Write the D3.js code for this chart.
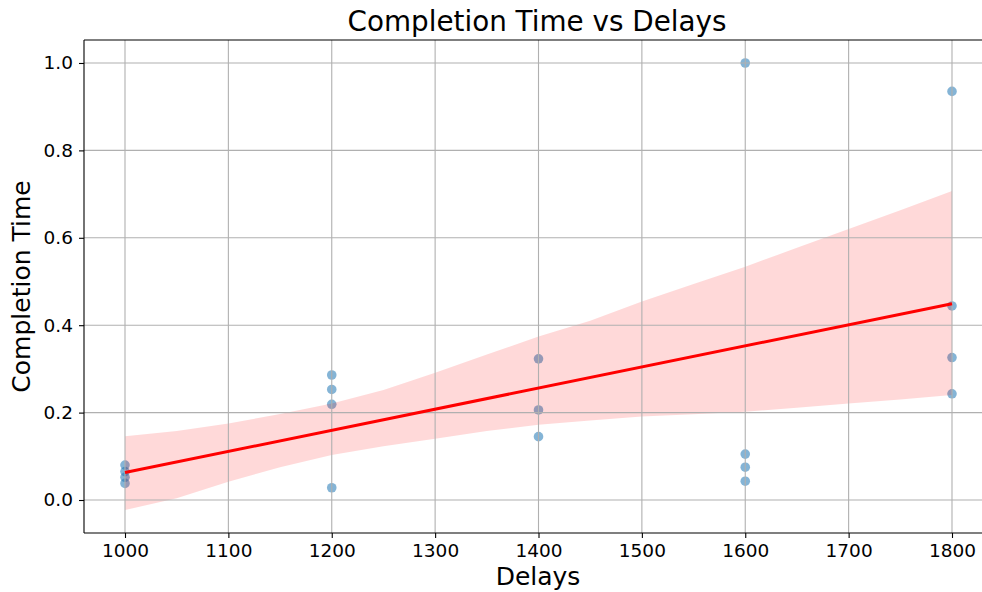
<!DOCTYPE html>
<html>
<head>
<meta charset="utf-8">
<script src="https://cdn.jsdelivr.net/npm/d3@7"></script>
<style>
  html, body { margin: 0; padding: 0; background: #fff; }
  svg { display: block; font-family: "DejaVu Sans", sans-serif; }
</style>
</head>
<body>
<svg id="chart" width="982" height="592"></svg>
<script>
// Observations: delay setting and measured completion time
const delays = [1000, 1000, 1000, 1000,
                1200, 1200, 1200, 1200,
                1400, 1400, 1400,
                1600, 1600, 1600, 1600,
                1800, 1800, 1800, 1800];
const completion = [0.080, 0.065, 0.052, 0.038,
                    0.286, 0.253, 0.219, 0.028,
                    0.323, 0.206, 0.145,
                    1.000, 0.105, 0.075, 0.043,
                    0.935, 0.444, 0.326, 0.243];

// 95% confidence band of the fit (bootstrapped), sampled along x
const bandX    = [1000, 1050, 1100, 1150, 1200, 1250, 1300, 1350, 1400,
                  1450, 1500, 1550, 1600, 1650, 1700, 1750, 1800];
const bandLow  = [-0.023, 0.004, 0.042, 0.075, 0.103, 0.123, 0.140, 0.158, 0.172,
                  0.182, 0.191, 0.196, 0.202, 0.211, 0.221, 0.230, 0.240];
const bandHigh = [0.146, 0.158, 0.175, 0.197, 0.221, 0.252, 0.291, 0.333, 0.374,
                  0.410, 0.454, 0.494, 0.534, 0.577, 0.620, 0.663, 0.707];

const xTicks = [1000, 1100, 1200, 1300, 1400, 1500, 1600, 1700, 1800];
const yTicks = [0.0, 0.2, 0.4, 0.6, 0.8, 1.0];

(function () {
const svg = d3.select("#chart");
const plotLeft = 84, plotTop = 40, plotBottom = 533;

const x = d3.scaleLinear().domain([960, 1840]).range([83.65, 993.35]);
const y = d3.scaleLinear().domain([-0.0755, 1.0526]).range([plotBottom, plotTop]);
const plotRight = x(1840);

// Least-squares fit of completion time on delay
const n = delays.length;
const mx = d3.mean(delays), my = d3.mean(completion);
let sxy = 0, sxx = 0;
for (let i = 0; i < n; i++) {
  sxy += (delays[i] - mx) * (completion[i] - my);
  sxx += (delays[i] - mx) ** 2;
}
const slope = sxy / sxx, intercept = my - slope * mx;
const xMin = d3.min(delays), xMax = d3.max(delays);
const fitLine = [xMin, xMax].map(v => [v, intercept + slope * v]);

// Scatter points
svg.append("g")
  .selectAll("circle")
  .data(delays.map((d, i) => [d, completion[i]]))
  .join("circle")
  .attr("cx", d => x(d[0]))
  .attr("cy", d => y(d[1]))
  .attr("r", 4.8)
  .attr("fill", "#1f77b4")
  .attr("fill-opacity", 0.55);

// Confidence band
const area = d3.area()
  .x((d, i) => x(bandX[i]))
  .y0((d, i) => y(bandLow[i]))
  .y1((d, i) => y(bandHigh[i]));
svg.append("path")
  .datum(bandX)
  .attr("d", area)
  .attr("fill", "#ff0000")
  .attr("fill-opacity", 0.15);

// Grid
const grid = svg.append("g").attr("stroke", "#b0b0b0").attr("stroke-width", 1.1);
grid.selectAll("line.vx").data(xTicks).join("line")
  .attr("x1", d => x(d)).attr("x2", d => x(d))
  .attr("y1", plotTop).attr("y2", plotBottom);
grid.selectAll("line.hy").data(yTicks).join("line")
  .attr("x1", plotLeft).attr("x2", plotRight)
  .attr("y1", d => y(d)).attr("y2", d => y(d));

// Regression line
svg.append("path")
  .datum(fitLine)
  .attr("d", d3.line().x(d => x(d[0])).y(d => y(d[1])))
  .attr("fill", "none")
  .attr("stroke", "#ff0000")
  .attr("stroke-width", 3);

// Axes
const xAxis = d3.axisBottom(x).tickValues(xTicks).tickSize(5).tickPadding(6).tickFormat(d3.format("d"));
const yAxis = d3.axisLeft(y).tickValues(yTicks).tickSize(5).tickPadding(6).tickFormat(d3.format(".1f"));

const gx = svg.append("g").attr("transform", `translate(0,${plotBottom})`).call(xAxis);
const gy = svg.append("g").attr("transform", `translate(${plotLeft},0)`).call(yAxis);
[gx, gy].forEach(g => {
  g.select(".domain").remove();
  g.selectAll(".tick line").attr("stroke", "#000").attr("stroke-width", 1.1);
  g.selectAll(".tick text").attr("fill", "#000")
    .style("font-family", "DejaVu Sans").style("font-size", "18.5px");
});

// Spines
const spines = svg.append("g").attr("stroke", "#000").attr("stroke-width", 1.1);
spines.append("line").attr("x1", plotLeft).attr("x2", plotLeft).attr("y1", plotTop).attr("y2", plotBottom);
spines.append("line").attr("x1", plotLeft).attr("x2", plotRight).attr("y1", plotBottom).attr("y2", plotBottom);
spines.append("line").attr("x1", plotLeft).attr("x2", plotRight).attr("y1", plotTop).attr("y2", plotTop);

// Titles
svg.append("text")
  .attr("x", 537).attr("y", 31)
  .attr("text-anchor", "middle")
  .style("font-size", "27.8px")
  .text("Completion Time vs Delays");

svg.append("text")
  .attr("x", 538).attr("y", 585)
  .attr("text-anchor", "middle")
  .style("font-size", "25px")
  .text("Delays");

svg.append("text")
  .attr("transform", `translate(30,${(plotTop + plotBottom) / 2}) rotate(-90)`)
  .attr("text-anchor", "middle")
  .style("font-size", "25px")
  .text("Completion Time");
})();
</script>
</body>
</html>
